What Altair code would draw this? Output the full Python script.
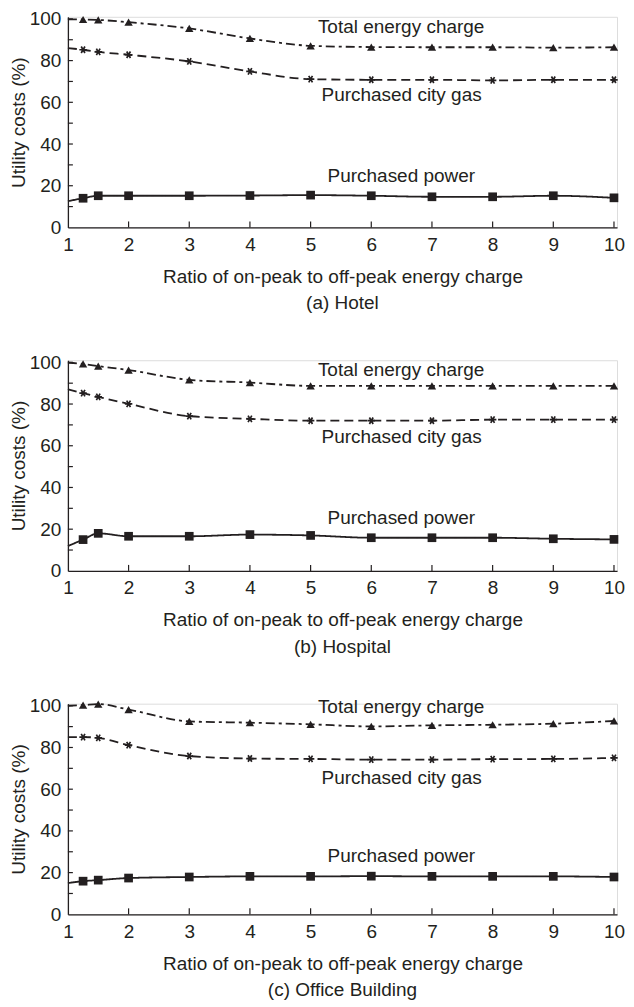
import altair as alt
import pandas as pd

# ---------------- data ----------------
X_LINE = [1, 1.25, 1.5, 2, 3, 4, 5, 6, 7, 8, 9, 10]  # first x (=1) has no marker

PANELS = ["(a) Hotel", "(b) Hospital", "(c) Office Building"]

hotel_total = [99.8, 99.7, 99.5, 98.4, 95.4, 90.6, 87.1, 86.5, 86.4, 86.4, 86.2, 86.4]
hotel_gas = [86.0, 85.2, 84.2, 82.8, 79.6, 74.8, 71.1, 70.8, 70.8, 70.5, 70.8, 70.8]
hotel_power = [12.6, 14.0, 15.2, 15.2, 15.2, 15.3, 15.5, 15.2, 14.7, 14.7, 15.2, 14.2]

hospital_total = [99.8, 99.2, 98.2, 96.3, 91.6, 90.3, 88.7, 88.7, 88.7, 88.7, 88.7, 88.7]
hospital_gas = [87.1, 85.2, 83.4, 80.1, 74.2, 72.9, 72.0, 72.0, 72.0, 72.5, 72.5, 72.5]
hospital_power = [11.9, 15.0, 18.0, 16.6, 16.6, 17.4, 17.0, 15.9, 15.9, 15.9, 15.4, 15.1]

office_total = [100.0, 100.3, 100.8, 98.2, 92.5, 91.9, 91.1, 90.1, 90.6, 90.9, 91.4, 92.7]
office_gas = [85.0, 85.0, 84.6, 81.1, 75.9, 74.7, 74.5, 74.2, 74.2, 74.4, 74.5, 75.0]
office_power = [15.0, 15.9, 16.4, 17.4, 17.9, 18.2, 18.2, 18.3, 18.2, 18.2, 18.2, 17.9]

SERIES = ["Total energy charge", "Purchased city gas", "Purchased power"]
PANEL_VALUES = [
    [hotel_total, hotel_gas, hotel_power],
    [hospital_total, hospital_gas, hospital_power],
    [office_total, office_gas, office_power],
]

# label anchor positions (data coords), per panel, per series
LABEL_X = [5.12, 5.18, 5.28]
LABEL_Y = [
    [96.0, 63.6, 24.9],
    [96.2, 64.1, 25.5],
    [99.3, 65.2, 27.9],
]

X_TICKS = [1, 2, 3, 4, 5, 6, 7, 8, 9, 10]
X_TICK_MARKS = [2, 3, 4, 5, 6, 7, 8, 9, 10]
Y_LABELS = [0, 20, 40, 60, 80, 100]
Y_TICK_MARKS = [10, 20, 30, 40, 50, 60, 70, 80, 90, 100]

X_TITLE = "Ratio of on-peak to off-peak energy charge"
Y_TITLE = "Utility costs (%)"

# ---------------- style ----------------
INK = "#231f20"
FONT = "Liberation Sans"
FS = 19
W, H = 550, 211

ASTERISK = "M-1,0L1,0M-0.5,-0.87L0.5,0.87M-0.5,0.87L0.5,-0.87"

xscale = alt.Scale(domain=[1, 10.05], nice=False, zero=False)
yscale = alt.Scale(domain=[0, 101], nice=False, zero=False)


def panel(i):
    rows = []
    for s, vals in zip(SERIES, PANEL_VALUES[i]):
        for j, (x, y) in enumerate(zip(X_LINE, vals)):
            rows.append({"series": s, "x": x, "y": y, "marker": j > 0})
    df = pd.DataFrame(rows)
    lab = pd.DataFrame({"series": SERIES, "x": LABEL_X, "y": LABEL_Y[i]})

    base = alt.Chart(df)
    xenc = alt.X("x:Q", scale=xscale,
                 axis=alt.Axis(values=X_TICKS, format="d", ticks=False, grid=False, title=X_TITLE,
                               labelFontSize=FS, titleFontSize=FS, labelFont=FONT, titleFont=FONT,
                               labelColor=INK, titleColor=INK, domainColor=INK, domainWidth=1.3,
                               titleFontWeight="normal", labelPadding=8, titlePadding=13,
                               labelFlush=False))
    yenc = alt.Y("y:Q", scale=yscale,
                 axis=alt.Axis(values=Y_LABELS, format="d", ticks=False, grid=False, title=Y_TITLE,
                               labelFontSize=FS, titleFontSize=FS, labelFont=FONT, titleFont=FONT,
                               labelColor=INK, titleColor=INK, domainColor=INK, domainWidth=1.3,
                               titleFontWeight="normal", labelPadding=7, titlePadding=1,
                               labelFlush=False))

    lines = base.mark_line(interpolate="monotone", color=INK).encode(
        x=xenc, y=yenc,
        detail="series:N",
        strokeDash=alt.StrokeDash("series:N", scale=alt.Scale(domain=SERIES, range=[[9, 4, 3, 4], [9, 5], [1, 0]]), legend=None),
        strokeWidth=alt.StrokeWidth("series:N", scale=alt.Scale(domain=SERIES, range=[1.8, 1.8, 2.2]), legend=None),
    )
    tri = base.transform_filter(alt.datum.marker).transform_filter(alt.datum.series == SERIES[0]).mark_point(
        shape="triangle-up", filled=True, color=INK, size=70, opacity=1).encode(x="x:Q", y="y:Q")
    ast = base.transform_filter(alt.datum.marker).transform_filter(alt.datum.series == SERIES[1]).mark_point(
        shape=ASTERISK, filled=False, color=INK, size=56, strokeWidth=1.7, opacity=1).encode(x="x:Q", y="y:Q")
    sq = base.transform_filter(alt.datum.marker).transform_filter(alt.datum.series == SERIES[2]).mark_point(
        shape="square", filled=True, color=INK, size=76, opacity=1).encode(x="x:Q", y="y:Q")

    ytk = alt.Chart(pd.DataFrame({"v": Y_TICK_MARKS})).mark_rule(color=INK, strokeWidth=1.2).encode(
        y=alt.Y("v:Q", scale=yscale), x=alt.value(0), x2=alt.value(5))
    xtk = alt.Chart(pd.DataFrame({"v": X_TICK_MARKS})).mark_rule(color=INK, strokeWidth=1.2).encode(
        x=alt.X("v:Q", scale=xscale), y=alt.value(H), y2=alt.value(H - 6))

    texts = alt.Chart(lab).mark_text(align="left", baseline="middle", font=FONT, fontSize=FS, color=INK).encode(
        x=alt.X("x:Q", scale=xscale), y=alt.Y("y:Q", scale=yscale), text="series:N")

    return alt.layer(lines, tri, ast, sq, ytk, xtk, texts).properties(
        width=W, height=H,
        title=alt.TitleParams(PANELS[i], orient="bottom", anchor="middle", font=FONT, fontSize=FS,
                              fontWeight="normal", color=INK, offset=8),
    )


chart = alt.vconcat(*[panel(i) for i in range(3)], spacing=133, bounds="flush").properties(
    padding={"left": 0, "top": 0, "right": 0, "bottom": 0}
).configure_view(stroke=None).configure(background="white")

chart.save("out.html", embed_options={"renderer": "svg", "actions": False})
